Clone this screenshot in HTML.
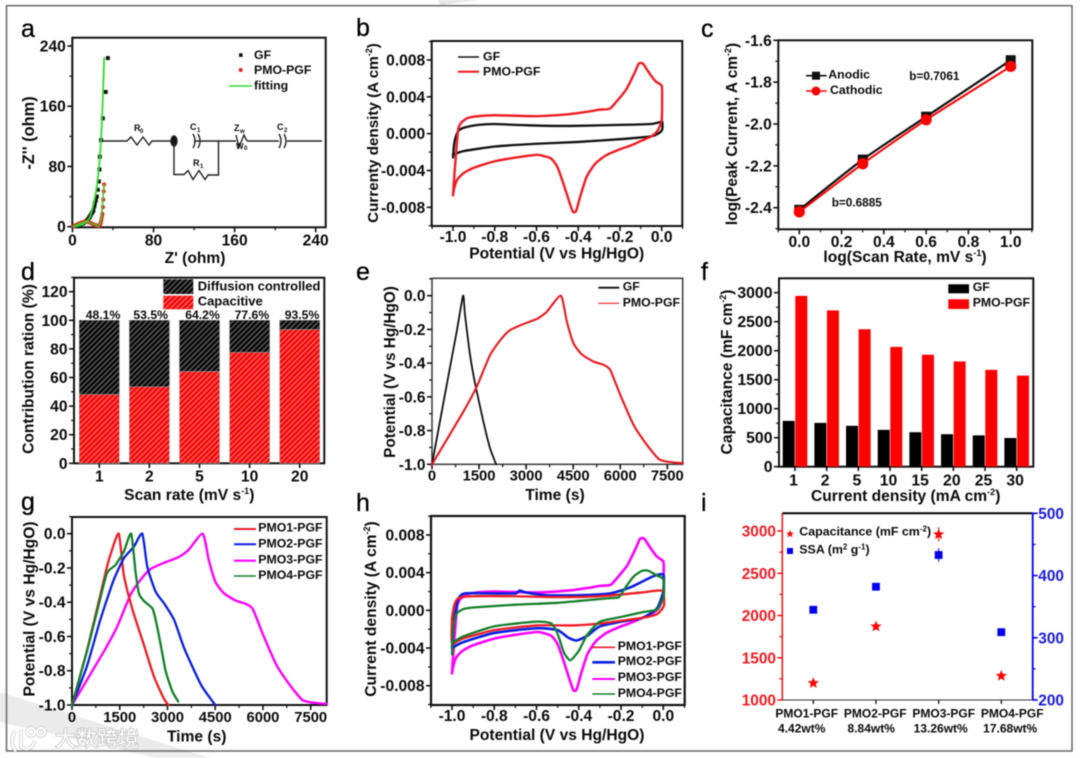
<!DOCTYPE html>
<html lang="en">
<head>
<meta charset="utf-8">
<title>Electrochemical characterisation figure</title>
<style>
html,body{margin:0;padding:0;background:#fff;}
body{width:1080px;height:758px;overflow:hidden;}
#figure{display:block;filter:blur(0.5px);}
text{font-family:"Liberation Sans","Noto Sans CJK SC",sans-serif;font-weight:bold;fill:#0a0a0a;}
.letter{font-size:25px;font-weight:normal;fill:#000;stroke:#000;stroke-width:.3px;}
.title{font-size:15.6px;}
.leg{font-size:12.3px;}
</style>
</head>
<body>
<svg id="figure" xmlns="http://www.w3.org/2000/svg" width="1080" height="758" viewBox="0 0 1080 758">
<defs>
<pattern id="hatch-black" width="3.8" height="3.8" patternUnits="userSpaceOnUse" patternTransform="rotate(-45)">
<rect width="3.8" height="3.8" fill="#0a0a0a"/><rect y="0" width="3.8" height="0.8" fill="#8c8c8c"/>
</pattern>
<pattern id="hatch-red" width="3.8" height="3.8" patternUnits="userSpaceOnUse" patternTransform="rotate(-45)">
<rect width="3.8" height="3.8" fill="#f60808"/><rect y="0" width="3.8" height="0.8" fill="#ff9a9a"/>
</pattern>
</defs>
<rect x="0" y="0" width="1080" height="758" fill="#fff"/>
<polygon points="437,0 480,0 441,5" fill="#e6e6e6"/>
<polygon points="0,692 210,758 157,758 0,722" fill="#ebebeb"/>
<rect x="6.5" y="5.7" width="1065.5" height="745.3" fill="none" stroke="#666" stroke-width="1.5"/>

<text class="letter" x="21" y="37">a</text>
<text class="letter" x="356" y="36">b</text>
<text class="letter" x="701" y="37">c</text>
<text class="letter" x="21" y="280">d</text>
<text class="letter" x="356" y="280">e</text>
<text class="letter" x="701" y="280">f</text>
<text class="letter" x="21" y="510">g</text>
<text class="letter" x="356" y="511">h</text>
<text class="letter" x="701" y="511">i</text>

<text class="title" x="195" y="263" text-anchor="middle">Z' (ohm)</text>
<text class="title" style="font-size:16.4px" transform="translate(34,133) rotate(-90)" text-anchor="middle">-Z'' (ohm)</text>
<text class="title" x="556.7" y="258.5" text-anchor="middle">Potential (V vs Hg/HgO)</text>
<text class="title" style="font-size:15.2px" transform="translate(378,133) rotate(-90)" text-anchor="middle">Currenty density (A cm<tspan font-size="9" dy="-6">-2</tspan><tspan dy="6">)</tspan></text>
<text class="title" x="905" y="262" text-anchor="middle">log(Scan Rate, mV s<tspan font-size="9" dy="-6">-1</tspan><tspan dy="6">)</tspan></text>
<text class="title" style="font-size:15.4px" transform="translate(737,134) rotate(-90)" text-anchor="middle">log(Peak Current, A cm<tspan font-size="9" dy="-6">-2</tspan><tspan dy="6">)</tspan></text>
<text class="title" x="189.3" y="500" text-anchor="middle">Scan rate (mV s<tspan font-size="9" dy="-6">-1</tspan><tspan dy="6">)</tspan></text>
<text class="title" transform="translate(33.3,369) rotate(-90)" text-anchor="middle">Contribution ration (%)</text>
<text class="title" x="555" y="500" text-anchor="middle">Time (s)</text>
<text class="title" style="font-size:15.3px" transform="translate(395,372) rotate(-90)" text-anchor="middle">Potential (V vs Hg/HgO)</text>
<text class="title" x="905.7" y="501" text-anchor="middle">Current density (mA cm<tspan font-size="9" dy="-6">-2</tspan><tspan dy="6">)</tspan></text>
<text class="title" transform="translate(732,372) rotate(-90)" text-anchor="middle">Capacitance (mF cm<tspan font-size="9" dy="-6">-2</tspan><tspan dy="6">)</tspan></text>
<text class="title" x="196.7" y="741.7" text-anchor="middle">Time (s)</text>
<text class="title" transform="translate(34.7,609) rotate(-90)" text-anchor="middle">Potential (V vs Hg/HgO)</text>
<text class="title" x="557" y="740" text-anchor="middle">Potential (V vs Hg/HgO)</text>
<text class="title" transform="translate(376,609) rotate(-90)" text-anchor="middle">Current density (A cm<tspan font-size="9" dy="-6">-2</tspan><tspan dy="6">)</tspan></text>

<g fill="none" stroke="#222" stroke-width="1.4">
<path d="M102,141 H127 l4,-4 6,8 6,-8 6,8 3,-4 H174 M194,141 H236 M247,141 H279 M287,141 H322"/>
<path d="M193,134 q4,7 0,14 M198,134 q4,7 0,14 M279,134 q4,7 0,14 M284,134 q4,7 0,14"/>
<ellipse cx="174" cy="141" rx="3" ry="5" fill="#111"/>
<path d="M174,141 V174.5 H184 l4,-4 5,9 6,-9 6,9 3,-4.500 H218.500 V141"/>
<path d="M236,135 l3,12 5,-12 3,6"/>
<text x="134" y="131" font-size="9" stroke="none" fill="#222">R</text><text x="140" y="133" font-size="6" stroke="none" fill="#222">0</text>
<text x="190" y="130" font-size="9" stroke="none" fill="#222">C</text><text x="197" y="132" font-size="6" stroke="none" fill="#222">1</text>
<text x="234" y="131" font-size="9" stroke="none" fill="#222">Z</text><text x="240" y="133" font-size="6" stroke="none" fill="#222">w</text>
<text x="236" y="149" font-size="8" stroke="none" fill="#222">W</text><text x="244" y="150" font-size="6" stroke="none" fill="#222">0</text>
<text x="277" y="130" font-size="9" stroke="none" fill="#222">C</text><text x="284" y="132" font-size="6" stroke="none" fill="#222">2</text>
<text x="193" y="166" font-size="9" stroke="none" fill="#222">R</text><text x="200" y="168" font-size="6" stroke="none" fill="#222">1</text>
</g>

<g>
<path d="M15,731 q-6,12 1,20 M21,729 v18 q9,6 14,-6 M27,732 a4,4 0 1 0 8,0 a4,4 0 1 0 -8,0 M37,732 a4,4 0 1 0 8,0 a4,4 0 1 0 -8,0" fill="none" stroke="#c8c8c8" stroke-width="3.6"/>
<path d="M15,731 q-6,12 1,20 M21,729 v18 q9,6 14,-6 M27,732 a4,4 0 1 0 8,0 a4,4 0 1 0 -8,0 M37,732 a4,4 0 1 0 8,0 a4,4 0 1 0 -8,0" fill="none" stroke="#fff" stroke-width="2.2"/>
<text x="55" y="746" font-size="21" style="fill:#fff;stroke:#c4c4c4;stroke-width:1.6px;paint-order:stroke;font-weight:normal">大数跨境</text>
</g>

<g id="plots"></g>
</svg>
<script>
/* ---------- panel a: Nyquist ---------- */
const aTicks=[0,80,160,240];
const aLabels=['0','80','160','240'];
const aGfPoints=[[2,0.5],[4,1],[6,1.5],[8,3],[10,4],[11,5],[12.500,6.500],[14,8],[15,9],[15.500,10],[16.500,12],[17,13],[18,15.500],[19,18],[20,20],[20.600,22],[21.500,27],[22,31],[23,35],[24,40],[25,49],[26,60],[26.600,76],[27,93],[28.200,115],[29.900,144],[32.800,179],[34.900,224]];
const aPmoPoints=[[1,0.5],[2,1.200],[3,2],[4.500,3],[6,4],[7.500,4.800],[9,5.500],[10.500,6],[12,6.500],[13.500,6.600],[15,6.500],[16.500,5.800],[18,5],[19.500,4],[21,3],[22.500,2.200],[24,1.500],[26,1],[27,2.500],[27.500,4],[28,6],[28.500,9],[29,13],[29.500,17],[30,26],[30.300,36],[30.800,47],[31.200,56]];
const aGfFit=[[1,0],[3.400,0.800],[10.700,3.500],[17.300,13],[22.300,40],[25.600,71],[28.200,115.600],[29.900,169],[31.200,224]];
const aPmoFit=[[0.800,0],[5.800,3.500],[14,6.700],[20.600,3.500],[25.600,1],[28.200,9],[29.900,36],[31.200,56]];

/* ---------- panel b: CV ---------- */
const bXTicks=[-1,-0.8,-0.6,-0.4,-0.2,0];
const bXLabels=['-1.0','-0.8','-0.6','-0.4','-0.2','0.0'];
const bYTicks=[-0.008,-0.004,0,0.004,0.008];
const bYLabels=['-0.008','-0.004','0.000','0.004','0.008'];
const bGfCurve=[[-1,-0.0026],[-0.995,-0.0012],[-0.985,-0.0002],[-0.97,0.0004],[-0.94,0.0007],[-0.88,0.00095],[-0.8,0.00105],[-0.7,0.00095],[-0.55,0.00085],[-0.4,0.00085],[-0.2,0.00095],[-0.05,0.00105],[0,0.0013],[0.003,0.0012],[0.003,0.0005],[-0.01,0.0001],[-0.05,-0.0003],[-0.2,-0.0006],[-0.4,-0.0009],[-0.6,-0.0011],[-0.8,-0.0014],[-0.95,-0.0019],[-1,-0.0023]];
const bPmoCurve=[[-1,-0.0067],[-0.995,-0.005],[-0.985,-0.002],[-0.975,0.0005],[-0.96,0.0012],[-0.93,0.0017],[-0.88,0.0019],[-0.8,0.002],[-0.6,0.0019],[-0.45,0.0021],[-0.35,0.0024],[-0.3,0.0026],[-0.25,0.0027],[-0.22,0.0034],[-0.17,0.0048],[-0.13,0.0066],[-0.11,0.0076],[-0.09,0.0076],[-0.06,0.0066],[-0.03,0.0057],[0,0.0052],[0.002,0.004],[0,0.0015],[-0.02,0.0003],[-0.05,-0.0003],[-0.1,-0.0008],[-0.15,-0.0013],[-0.2,-0.0017],[-0.27,-0.0024],[-0.32,-0.0033],[-0.36,-0.0047],[-0.39,-0.0068],[-0.41,-0.0084],[-0.425,-0.0085],[-0.44,-0.0076],[-0.47,-0.0055],[-0.5,-0.0036],[-0.53,-0.0027],[-0.57,-0.0024],[-0.6,-0.0023],[-0.7,-0.0026],[-0.8,-0.003],[-0.9,-0.0037],[-0.95,-0.0043],[-0.98,-0.005],[-0.995,-0.006],[-1,-0.0067]];

/* ---------- panel c: log-log ---------- */
const cXTicks=[0,0.2,0.4,0.6,0.8,1];
const cXLabels=['0.0','0.2','0.4','0.6','0.8','1.0'];
const cYTicks=[-2.4,-2.2,-2,-1.8,-1.6];
const cYLabels=['-2.4','-2.2','-2.0','-1.8','-1.6'];
const cLogRate=[0,0.3,0.6,1];
const cAnodic=[-2.41,-2.17,-1.965,-1.695];
const cCathodic=[-2.42,-2.19,-1.98,-1.725];

/* ---------- panel d: stacked bars ---------- */
const dCategories=['1','2','5','10','20'];
const dCapacitive=[48.1,53.5,64.2,77.6,93.5];
const dYTicks=[0,20,40,60,80,100,120];
const dYLabels=['0','20','40','60','80','100','120'];

/* ---------- panel e: GCD ---------- */
const eXTicks=[0,1500,3000,4500,6000,7500];
const eXLabels=['0','1500','3000','4500','6000','7500'];
const eYTicks=[-1,-0.8,-0.6,-0.4,-0.2,0];
const eYLabels=['-1.0','-0.8','-0.6','-0.4','-0.2','0.0'];
const eGfCurve=[[0,-1],[468,-0.53],[787,-0.213],[990,0],[1050,-0.11],[1213,-0.352],[1372,-0.52],[1638,-0.747],[1851,-0.905],[2043,-1]];
const ePmoCurve=[[0,-1],[1000,-0.688],[1425,-0.54],[1851,-0.352],[2223,-0.253],[2489,-0.204],[2915,-0.168],[3340,-0.138],[3660,-0.095],[4106,0],[4298,-0.154],[4511,-0.283],[4777,-0.348],[5149,-0.391],[5468,-0.41],[5681,-0.44],[6000,-0.588],[6426,-0.767],[6851,-0.885],[7223,-0.968],[7489,-0.984],[8000,-0.994]];

/* ---------- panel f: grouped bars ---------- */
const fCategories=['1','2','5','10','15','20','25','30'];
const fGf=[790,755,705,635,595,560,540,495];
const fPmo=[2945,2695,2370,2065,1930,1815,1670,1570];
const fYTicks=[0,500,1000,1500,2000,2500,3000];
const fYLabels=['0','500','1000','1500','2000','2500','3000'];

/* ---------- panel g: GCD samples ---------- */
const gPmo1=[[0,-1],[500,-0.66],[1078,-0.21],[1204,-0.125],[1468,0],[1627,-0.24],[1890,-0.436],[2260,-0.65],[2577,-0.835],[2894,-0.965],[3032,-1]];
const gPmo2=[[0,-1],[465,-0.776],[887,-0.504],[1310,-0.27],[1627,-0.144],[1944,-0.076],[2208,0],[2366,-0.193],[2630,-0.339],[2894,-0.407],[3211,-0.504],[3528,-0.67],[4056,-0.883],[4500,-1]];
const gPmo3=ePmoCurve;
const gPmo4=[[0,-1],[465,-0.69],[835,-0.418],[1099,-0.23],[1363,-0.183],[1627,-0.105],[1859,0],[1996,-0.222],[2102,-0.348],[2260,-0.393],[2524,-0.436],[2630,-0.504],[2789,-0.65],[2947,-0.805],[3158,-0.922],[3338,-0.98]];

/* ---------- panel h: CV samples ---------- */
const hPmo1=[[-1,-0.0008],[-0.99,0.0005],[-0.97,0.0013],[-0.9,0.0015],[-0.7,0.0015],[-0.5,0.0014],[-0.3,0.0015],[-0.1,0.0019],[-0.03,0.0021],[0,0.002],[0.003,0.0005],[-0.03,-0.0004],[-0.1,-0.0008],[-0.2,-0.0011],[-0.3,-0.0014],[-0.42,-0.0016],[-0.6,-0.0016],[-0.8,-0.0021],[-0.95,-0.003],[-1,-0.0035],[-1,-0.0008]];
const hPmo2=[[-1,-0.004],[-0.99,-0.001],[-0.97,0.0012],[-0.94,0.0018],[-0.8,0.0018],[-0.7,0.0018],[-0.68,0.0021],[-0.65,0.0019],[-0.55,0.0016],[-0.4,0.0016],[-0.25,0.0018],[-0.15,0.0025],[-0.05,0.0036],[0,0.0038],[0,0.002],[-0.03,0.0002],[-0.1,-0.0008],[-0.2,-0.0012],[-0.3,-0.0017],[-0.36,-0.0027],[-0.41,-0.0032],[-0.45,-0.0029],[-0.5,-0.0021],[-0.6,-0.0019],[-0.8,-0.0024],[-0.95,-0.0034],[-1,-0.004]];
const hPmo3=bPmoCurve;
const hPmo4=[[-1,-0.0047],[-0.995,-0.002],[-0.98,-0.0004],[-0.95,0.0001],[-0.9,0.0003],[-0.7,0.0006],[-0.5,0.0008],[-0.35,0.0011],[-0.25,0.0013],[-0.21,0.0014],[-0.18,0.0024],[-0.14,0.0036],[-0.1,0.0042],[-0.07,0.0042],[-0.03,0.0037],[0,0.0033],[0.002,0.0015],[-0.03,0.0001],[-0.1,-0.0002],[-0.2,-0.0007],[-0.3,-0.0012],[-0.36,-0.0026],[-0.4,-0.0043],[-0.44,-0.0053],[-0.47,-0.0045],[-0.5,-0.0025],[-0.53,-0.0014],[-0.6,-0.0012],[-0.8,-0.0017],[-0.95,-0.0028],[-1,-0.0035]];

/* ---------- panel i: capacitance / SSA ---------- */
const iSamples=['PMO1-PGF','PMO2-PGF','PMO3-PGF','PMO4-PGF'];
const iLoadings=['4.42wt%','8.84wt%','13.26wt%','17.68wt%'];
const iCapacitance=[1200,1870,2960,1285];
const iCapacitanceErr=[15,35,85,15];
const iSsa=[345,382,433,309];
const iSsaErr=[3,4,11,3];
const iLeftTicks=[1000,1500,2000,2500,3000];
const iRightTicks=[200,300,400,500];

/* ---------- helpers ---------- */
const NS='http://www.w3.org/2000/svg';
const plots=document.getElementById('plots');
function linear(d0,d1,r0,r1){return v=>r0+(v-d0)*(r1-r0)/(d1-d0);}
function node(parent,tag,attrs,label,text){
  const el=document.createElementNS(NS,tag);
  for(const k in attrs)el.setAttribute(k,attrs[k]);
  
  
  if(text!==undefined)el.textContent=text;
  parent.appendChild(el);
  return el;
}
function panel(label){return node(plots,'g',{},label);}
function minorsOf(ticks,lo,hi){
  const step=ticks[1]-ticks[0],out=[];
  const start=ticks[0]-step/2;
  for(let i=0;start+i*step<=hi+1e-9;i++){const v=start+i*step;if(v>=lo-1e-9)out.push(v);}
  return out;
}
function tick(g,x1,y1,x2,y2,color,w,label){
  node(g,'line',{x1:x1,y1:y1,x2:x2,y2:y2,stroke:color,'stroke-width':w},label);
}
function axes(g,o){
  const [l,t,r,b]=o.box;
  node(g,'rect',{x:l,y:t,width:r-l,height:b-t,fill:'none',stroke:o.color||'#111','stroke-width':o.width||2},'plot-frame');
  o.xTicks.forEach((v,i)=>{
    const x=o.x(v);
    tick(g,x,b,x,b+5,'#111',1.6,'x-tick');
    node(g,'text',{x:x,y:b+o.xOff,'text-anchor':'middle','font-size':o.xFs||o.fs||15.6},'x-tick-label',o.xLabels[i]);
  });
  if(o.xMinor)o.xMinor.forEach(v=>tick(g,o.x(v),b,o.x(v),b+3,'#111',1.2,'x-minor-tick'));
  o.yTicks.forEach((v,i)=>{
    const y=o.y(v);
    tick(g,l,y,l-5,y,'#111',1.6,'y-tick');
    node(g,'text',{x:l-(o.yOff||6.5),y:y+5.5,'text-anchor':'end','font-size':o.fs||15.6},'y-tick-label',o.yLabels[i]);
  });
  if(o.yMinor)o.yMinor.forEach(v=>tick(g,l,o.y(v),l-3,o.y(v),'#111',1.2,'y-minor-tick'));
}
function curve(g,data,sx,sy,color,w,label){
  const p=data.map(q=>[sx(q[0]),sy(q[1])]);
  const k=0.1;
  let d='M'+p[0][0].toFixed(2)+','+p[0][1].toFixed(2);
  for(let i=0;i<p.length-1;i++){
    const a=p[Math.max(i-1,0)],b=p[i],c=p[i+1],e=p[Math.min(i+2,p.length-1)];
    d+=' C'+(b[0]+(c[0]-a[0])*k).toFixed(2)+','+(b[1]+(c[1]-a[1])*k).toFixed(2)+' '+(c[0]-(e[0]-b[0])*k).toFixed(2)+','+(c[1]-(e[1]-b[1])*k).toFixed(2)+' '+c[0].toFixed(2)+','+c[1].toFixed(2);
  }
  return node(g,'path',{d:d,fill:'none',stroke:color,'stroke-width':w,'stroke-linejoin':'round','stroke-linecap':'round'},label);
}
function legLine(g,x1,x2,y,color,w,tx,ty,txt,label){
  node(g,'line',{x1:x1,y1:y,x2:x2,y2:y,stroke:color,'stroke-width':w},label+'-swatch');
  node(g,'text',{x:tx,y:ty,class:'leg'},label+'-text',txt);
}
function starPoints(cx,cy,r){
  const p=[];
  for(let i=0;i<10;i++){const a=-Math.PI/2+i*Math.PI/5,q=i%2?r*0.42:r;p.push((cx+q*Math.cos(a)).toFixed(2)+','+(cy+q*Math.sin(a)).toFixed(2));}
  return p.join(' ');
}

/* ---------- draw a ---------- */
(function(){
  const g=panel('panel-a-nyquist');
  const x=linear(0,240,72.5,315.7),y=linear(0,240,226.7,46);
  axes(g,{box:[72.3,37.7,325.7,227.3],x,y,xTicks:aTicks,xLabels:aLabels,yTicks:aTicks,yLabels:aLabels,xOff:18,xMinor:minorsOf(aTicks,0,250),yMinor:minorsOf(aTicks,0,250)});
  aGfPoints.forEach(p=>node(g,'rect',{x:x(p[0])-2,y:y(p[1])-2,width:4,height:4,fill:'#111'},'gf-point'));
  aPmoPoints.forEach(p=>node(g,'circle',{cx:x(p[0]),cy:y(p[1]),r:2.1,fill:'#e8261e'},'pmo-pgf-point'));
  curve(g,aGfFit,x,y,'#2fdc2f',1.8,'gf-fitting-line');
  curve(g,aPmoFit,x,y,'#4fbf2f',1.6,'pmo-pgf-fitting-line');
  node(g,'rect',{x:239,y:53.300,width:3.6,height:3.6,fill:'#111'},'legend-gf-swatch');
  node(g,'text',{x:254,y:59,class:'leg'},'legend-gf-text','GF');
  node(g,'circle',{cx:240.700,cy:70,r:2,fill:'#e8261e'},'legend-pmo-pgf-swatch');
  node(g,'text',{x:254,y:74,class:'leg'},'legend-pmo-pgf-text','PMO-PGF');
  legLine(g,229,252,86,'#2fdc2f',1.6,254,89.5,'fitting','legend-fitting');
})();

/* ---------- draw b ---------- */
(function(){
  const g=panel('panel-b-cv');
  const x=linear(-1,0,453,661.7),y=linear(-0.008,0.008,207.3,60);
  axes(g,{box:[431.7,41,682.3,226],x,y,xTicks:bXTicks,xLabels:bXLabels,yTicks:bYTicks,yLabels:bYLabels,xOff:16,xMinor:minorsOf(bXTicks,-1.1,0.1),yMinor:minorsOf(bYTicks,-0.01,0.01)});
  curve(g,bGfCurve,x,y,'#111',2.3,'gf-cv-curve');
  curve(g,bPmoCurve,x,y,'#ee1c24',2.4,'pmo-pgf-cv-curve');
  legLine(g,458,479,57,'#111',1.6,483,60.5,'GF','legend-gf');
  legLine(g,458,479,71.700,'#ee1c24',2.2,483,75.5,'PMO-PGF','legend-pmo-pgf');
})();

/* ---------- draw c ---------- */
(function(){
  const g=panel('panel-c-log-log');
  const x=linear(0,1,799.3,1010.7),y=linear(-2.4,-1.6,207.7,40.3);
  axes(g,{box:[778.3,40.3,1032.3,229.3],x,y,xTicks:cXTicks,xLabels:cXLabels,yTicks:cYTicks,yLabels:cYLabels,xOff:17.5,xMinor:minorsOf(cXTicks,-0.1,1.1),yMinor:minorsOf(cYTicks,-2.5,-1.6)});
  const anodic=cLogRate.map((v,i)=>[v,cAnodic[i]]);
  const cathodic=cLogRate.map((v,i)=>[v,cCathodic[i]]);
  curve(g,anodic,x,y,'#111',2.2,'anodic-line');
  anodic.forEach(p=>node(g,'rect',{x:x(p[0])-5,y:y(p[1])-5,width:10,height:10,fill:'#111'},'anodic-point'));
  curve(g,cathodic,x,y,'#f00',2,'cathodic-line');
  cathodic.forEach(p=>node(g,'circle',{cx:x(p[0]),cy:y(p[1]),r:5.600,fill:'#f00'},'cathodic-point'));
  legLine(g,806,826.700,75.700,'#111',1.6,828.300,78.500,'Anodic','legend-anodic');
  node(g,'rect',{x:812,y:71.700,width:8,height:8,fill:'#111'},'legend-anodic-marker');
  legLine(g,806,826.700,91,'#f00',1.6,830,94,'Cathodic','legend-cathodic');
  node(g,'circle',{cx:816,cy:91,r:4.500,fill:'#f00'},'legend-cathodic-marker');
  node(g,'text',{x:909.300,y:80,'font-size':11.8},'anodic-slope-label','b=0.7061');
  node(g,'text',{x:831.700,y:206.700,'font-size':11.8},'cathodic-slope-label','b=0.6885');
})();

/* ---------- draw d ---------- */
(function(){
  const g=panel('panel-d-contribution');
  const y=linear(0,120,463.3,291.7);
  const step=(299.7-99.3)/(dCategories.length-1);
  const cx=i=>99.3+i*step,w=40;
  const top=y(100);
  axes(g,{box:[74,277.7,324.3,463.3],x:v=>v,y,xTicks:[],xLabels:[],yTicks:dYTicks,yLabels:dYLabels,xOff:18,yMinor:minorsOf(dYTicks,0,130)});
  const labelOffsets=[3.7,1.3,3,2.3,2.3];
  dCategories.forEach((c,i)=>{
    const v=dCapacitive[i];
    node(g,'rect',{x:cx(i)-w/2,y:top,width:w,height:y(v)-top,fill:'url(#hatch-black)',stroke:'#777','stroke-width':.6},'bar-diffusion-'+c);
    node(g,'rect',{x:cx(i)-w/2,y:y(v),width:w,height:y(0)-y(v),fill:'url(#hatch-red)',stroke:'#999','stroke-width':.6},'bar-capacitive-'+c);
    node(g,'text',{x:cx(i)+labelOffsets[i],y:319,'text-anchor':'middle','font-size':12.2},'percent-label-'+c,v.toFixed(1)+'%');
    tick(g,cx(i),463.300,cx(i),468,'#111',1.6,'x-tick');
    node(g,'text',{x:cx(i),y:481.500,'text-anchor':'middle','font-size':15.6},'x-tick-label',c);
  });
  node(g,'rect',{x:163.300,y:279.300,width:30,height:14.700,fill:'url(#hatch-black)'},'legend-diffusion-swatch');
  node(g,'rect',{x:163.300,y:295.700,width:30,height:13.600,fill:'url(#hatch-red)'},'legend-capacitive-swatch');
  node(g,'text',{x:197.700,y:290.700,'font-size':13},'legend-diffusion-text','Diffusion controlled');
  node(g,'text',{x:197.700,y:305.700,'font-size':13},'legend-capacitive-text','Capacitive');
})();

/* ---------- draw e ---------- */
(function(){
  const g=panel('panel-e-gcd');
  const x=linear(0,7500,432,667.3),y=linear(-1,0,464.3,295.7);
  axes(g,{box:[432,278.3,682.7,464.3],x,y,xTicks:eXTicks,xLabels:eXLabels,yTicks:eYTicks,yLabels:eYLabels,xOff:16,xMinor:minorsOf(eXTicks,0,8000),yMinor:minorsOf(eYTicks,-1,0.1),color:'#444',width:1.6,fs:15.5,xFs:14.8});
  curve(g,eGfCurve,x,y,'#111',1.8,'gf-gcd-curve');
  curve(g,ePmoCurve,x,y,'#e8181f',2.1,'pmo-pgf-gcd-curve');
  legLine(g,598.300,619.300,287.700,'#111',1.8,622.700,290.500,'GF','legend-gf');
  legLine(g,598.300,619.300,303.300,'#ee1c24',1.2,622.700,306.500,'PMO-PGF','legend-pmo-pgf');
})();

/* ---------- draw f ---------- */
(function(){
  const g=panel('panel-f-capacitance');
  const y=linear(0,3000,466.7,292.7);
  const center=i=>795+i*31.67;
  axes(g,{box:[779,278.3,1033.3,466.7],x:v=>v,y,xTicks:[],xLabels:[],yTicks:fYTicks,yLabels:fYLabels,xOff:19,yMinor:minorsOf(fYTicks,0,3200),fs:15.8,yOff:6.5});
  fCategories.forEach((c,i)=>{
    node(g,'rect',{x:center(i)-12.300,y:y(fGf[i]),width:12,height:y(0)-y(fGf[i]),fill:'#000'},'bar-gf-'+c);
    node(g,'rect',{x:center(i)+0.300,y:y(fPmo[i]),width:12,height:y(0)-y(fPmo[i]),fill:'#f00'},'bar-pmo-pgf-'+c);
    tick(g,center(i),466.700,center(i),471,'#111',1.6,'x-tick');
    node(g,'text',{x:center(i)-1.500,y:485.700,'text-anchor':'middle','font-size':15.8},'x-tick-label',c);
  });
  node(g,'rect',{x:948.300,y:284.300,width:20.700,height:9,fill:'#000'},'legend-gf-swatch');
  node(g,'rect',{x:948.300,y:299.300,width:20.700,height:9.700,fill:'#f00'},'legend-pmo-pgf-swatch');
  node(g,'text',{x:972.700,y:291,class:'leg'},'legend-gf-text','GF');
  node(g,'text',{x:972.700,y:306.700,class:'leg'},'legend-pmo-pgf-text','PMO-PGF');
})();

/* ---------- draw g ---------- */
(function(){
  const g=panel('panel-g-gcd-samples');
  const x=linear(0,7500,72,310.7),y=linear(-1,0,705,533.7);
  axes(g,{box:[72,517,326.7,705],x,y,xTicks:eXTicks,xLabels:eXLabels,yTicks:eYTicks,yLabels:eYLabels,xOff:17,xMinor:minorsOf(eXTicks,0,8000),yMinor:minorsOf(eYTicks,-1,0.1),xFs:14.8});
  curve(g,gPmo3,x,y,'#ff00ff',2.4,'pmo3-gcd-curve');
  curve(g,gPmo1,x,y,'#ee1c24',2.3,'pmo1-gcd-curve');
  curve(g,gPmo2,x,y,'#0a1ee0',2.3,'pmo2-gcd-curve');
  curve(g,gPmo4,x,y,'#12802a',2.3,'pmo4-gcd-curve');
  legLine(g,234,256,529,'#ee1c24',2,258.300,531.700,'PMO1-PGF','legend-pmo1');
  legLine(g,234,256,544.300,'#0a1ee0',2,258.300,547.300,'PMO2-PGF','legend-pmo2');
  legLine(g,234,256,560.700,'#ff00ff',2.2,258.300,563.300,'PMO3-PGF','legend-pmo3');
  legLine(g,234,256,576,'#12802a',1.6,258.300,579,'PMO4-PGF','legend-pmo4');
})();

/* ---------- draw h ---------- */
(function(){
  const g=panel('panel-h-cv-samples');
  const x=linear(-1,0,452,663.3),y=linear(-0.008,0.008,685.7,535);
  axes(g,{box:[431,516,684.7,705],x,y,xTicks:bXTicks,xLabels:bXLabels,yTicks:bYTicks,yLabels:bYLabels,xOff:16,xMinor:minorsOf(bXTicks,-1.1,0.1),yMinor:minorsOf(bYTicks,-0.01,0.01),width:2.2});
  curve(g,hPmo3,x,y,'#ff00ff',2.6,'pmo3-cv-curve');
  curve(g,hPmo2,x,y,'#0a1ee0',2.6,'pmo2-cv-curve');
  curve(g,hPmo1,x,y,'#ee1c24',2.3,'pmo1-cv-curve');
  curve(g,hPmo4,x,y,'#12802a',2.3,'pmo4-cv-curve');
  legLine(g,592.300,615,647.300,'#ee1c24',1.6,617.700,650,'PMO1-PGF','legend-pmo1');
  legLine(g,592.300,615,662.300,'#0a1ee0',2.6,617.700,665,'PMO2-PGF','legend-pmo2');
  legLine(g,592.300,615,679,'#ff00ff',2,617.700,681,'PMO3-PGF','legend-pmo3');
  legLine(g,592.300,615,694,'#12802a',1.6,617.700,697,'PMO4-PGF','legend-pmo4');
})();

/* ---------- draw i ---------- */
(function(){
  const g=panel('panel-i-capacitance-ssa');
  const l=782.3,r=1032.7,t=513.3,b=700;
  const yL=linear(1000,3000,700,531),yR=linear(200,500,700,513.3);
  const cx=i=>813.3+i*62.67;
  node(g,'line',{x1:l,y1:t,x2:r,y2:t,stroke:'#000','stroke-width':2},'top-axis');
  node(g,'line',{x1:l,y1:b,x2:r,y2:b,stroke:'#333','stroke-width':1},'bottom-axis');
  node(g,'line',{x1:l,y1:t,x2:l,y2:b,stroke:'#f00','stroke-width':1.4},'left-axis');
  node(g,'line',{x1:r,y1:t,x2:r,y2:b,stroke:'#0000ff','stroke-width':1.8},'right-axis');
  iLeftTicks.forEach(v=>{
    tick(g,l,yL(v),l-5,yL(v),'#f00',1.4,'left-tick');
    node(g,'text',{x:776,y:yL(v)+5.500,'text-anchor':'end','font-size':15.4,style:'fill:#ee1c24'},'left-tick-label',String(v));
  });
  minorsOf(iLeftTicks,1000,3200).forEach(v=>tick(g,l,yL(v),l-3,yL(v),'#f00',1.2,'left-minor-tick'));
  iRightTicks.forEach(v=>{
    tick(g,r,yR(v),r+5,yR(v),'#0000ff',1.6,'right-tick');
    node(g,'text',{x:1038.300,y:yR(v)+5.500,'font-size':15.4,style:'fill:#1a1adf'},'right-tick-label',String(v));
  });
  minorsOf(iRightTicks,200,500).forEach(v=>tick(g,r,yR(v),r+3,yR(v),'#0000ff',1.2,'right-minor-tick'));
  iSamples.forEach((s,i)=>{
    tick(g,cx(i),b,cx(i),b+4,'#111',1.3,'x-tick');
    node(g,'text',{x:806.700+i*68.500,y:717.700,'text-anchor':'middle','font-size':12},'sample-label',s);
    node(g,'text',{x:801.700+i*69.500,y:732.700,'text-anchor':'middle','font-size':12},'loading-label',iLoadings[i]);
    node(g,'line',{x1:cx(i),y1:yL(iCapacitance[i]-iCapacitanceErr[i]),x2:cx(i),y2:yL(iCapacitance[i]+iCapacitanceErr[i]),stroke:'#f00','stroke-width':1},'capacitance-error-bar');
    node(g,'polygon',{points:starPoints(cx(i),yL(iCapacitance[i]),6),fill:'#f00'},'capacitance-point');
    node(g,'line',{x1:cx(i),y1:yR(iSsa[i]-iSsaErr[i]),x2:cx(i),y2:yR(iSsa[i]+iSsaErr[i]),stroke:'#0000ff','stroke-width':1},'ssa-error-bar');
    node(g,'rect',{x:cx(i)-3.900,y:yR(iSsa[i])-3.900,width:7.800,height:7.800,fill:'#0000ee'},'ssa-point');
  });
  node(g,'polygon',{points:starPoints(790,534,4.200),fill:'#f00'},'legend-capacitance-swatch');
  node(g,'rect',{x:787,y:548,width:6,height:6,fill:'#0000ee'},'legend-ssa-swatch');
  const capText=node(g,'text',{x:799.300,y:535.700,'font-size':12.4},'legend-capacitance-text','Capacitance (mF cm');
  node(capText,'tspan',{'font-size':8,dy:-4},'legend-capacitance-superscript','-2');
  node(capText,'tspan',{dy:4},'legend-capacitance-end',')');
  const ssaText=node(g,'text',{x:799.300,y:553.300,'font-size':12.4},'legend-ssa-text','SSA (m');
  node(ssaText,'tspan',{'font-size':8,dy:-4},'legend-ssa-superscript-area','2');
  node(ssaText,'tspan',{dy:4},'legend-ssa-mid',' g');
  node(ssaText,'tspan',{'font-size':8,dy:-4},'legend-ssa-superscript-mass','-1');
  node(ssaText,'tspan',{dy:4},'legend-ssa-end',')');
})();
</script>
</body>
</html>
